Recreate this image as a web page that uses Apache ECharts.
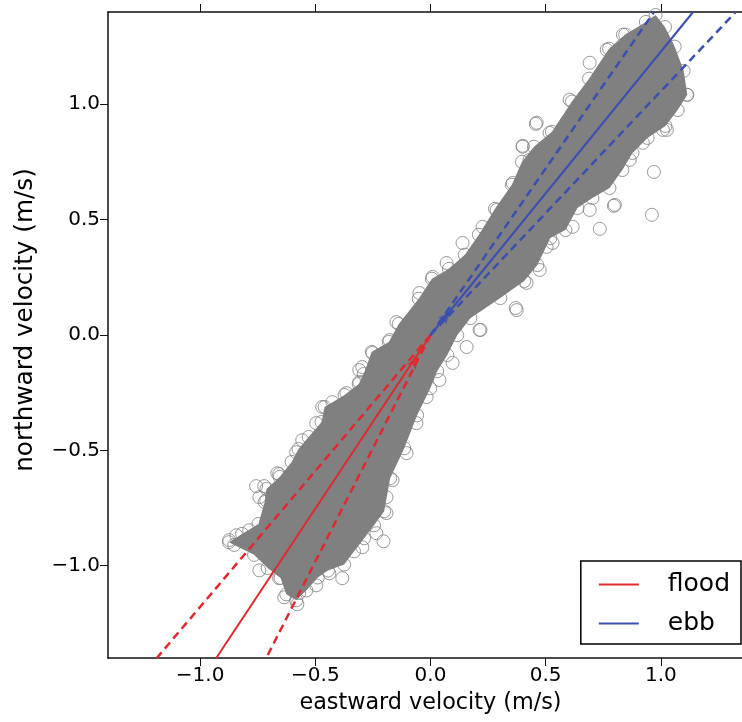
<!DOCTYPE html>
<html>
<head>
<meta charset="utf-8">
<script src="https://cdn.jsdelivr.net/npm/echarts@6.0.0/dist/echarts.min.js"></script>
<style>
html,body{margin:0;padding:0;background:#fff;}
#chart{width:742px;height:722px;}
</style>
</head>
<body>
<div id="chart"></div>
<script>
// tick positions (both axes)
var tickValues = [-1.0, -0.5, 0.0, 0.5, 1.0];

// outline of the dense sample cloud (counter-clockwise from the lower-left tip)
var cloudEdge = [
  [-0.875,-0.898],[-0.818,-0.862],[-0.747,-0.819],[-0.720,-0.724],[-0.712,-0.667],
  [-0.655,-0.615],[-0.603,-0.550],[-0.573,-0.494],[-0.529,-0.442],[-0.473,-0.377],
  [-0.460,-0.312],[-0.373,-0.260],[-0.312,-0.212],[-0.290,-0.169],[-0.255,-0.073],
  [-0.181,-0.030],[-0.138,0.048],[-0.051,0.157],[0.006,0.244],[0.080,0.287],
  [0.149,0.348],[0.210,0.435],[0.280,0.547],[0.353,0.651],[0.397,0.751],
  [0.449,0.816],[0.527,0.881],[0.614,1.012],[0.688,1.111],[0.775,1.241],
  [0.845,1.302],[0.935,1.357],[0.977,1.387],[1.018,1.335],[1.060,1.250],
  [1.099,1.145],[1.115,1.041],[1.073,0.975],[1.020,0.906],[0.942,0.854],
  [0.877,0.789],[0.833,0.715],[0.777,0.637],[0.703,0.594],[0.638,0.550],
  [0.586,0.455],[0.520,0.420],[0.464,0.303],[0.407,0.234],[0.303,0.160],
  [0.173,0.073],[0.116,-0.001],[0.073,-0.087],[0.029,-0.157],[-0.001,-0.231],
  [-0.058,-0.348],[-0.114,-0.491],[-0.175,-0.621],[-0.201,-0.764],[-0.245,-0.825],
  [-0.288,-0.881],[-0.332,-0.938],[-0.375,-0.995],[-0.445,-1.021],[-0.489,-1.051],
  [-0.539,-1.107],[-0.583,-1.150],[-0.626,-1.124],[-0.651,-1.053],[-0.707,-1.010],
  [-0.766,-0.953],[-0.852,-0.910]
];

// individual circles visible along the fringe of the cloud
var fringe = [
  [0.400,0.816],[0.461,0.920],[0.691,1.180],[0.765,1.236],[0.835,1.302],
  [0.604,1.020],[0.517,0.876],[0.430,0.759],[0.357,0.659],[0.287,0.542],
  [0.226,0.469],[0.139,0.399],[0.070,0.312],[0.009,0.252],
  [1.113,1.041],[1.074,1.054],[1.030,0.976],[1.009,0.889],[0.922,0.833],
  [0.865,0.759],[0.800,0.564],[0.691,0.542],[0.617,0.469],[0.530,0.399],
  [0.474,0.282],[0.417,0.226],[0.374,0.108],[0.213,0.022],[0.504,0.382],
  [-0.874,-0.889],[-0.843,-0.868],[-0.787,-0.846],[-0.713,-0.716],[-0.743,-0.703],
  [-0.665,-0.599],[-0.583,-0.508],[-0.557,-0.456],[-0.496,-0.382],[-0.470,-0.312],
  [-0.426,-0.291],[-0.365,-0.252],[-0.309,-0.204],[-0.296,-0.139],[-0.252,-0.078],
  [-0.309,-0.152],[-0.178,-0.022],[-0.148,0.056],[-0.048,0.182],
  [-0.439,-1.033],[-0.496,-1.085],[-0.570,-1.119],[-0.635,-1.137],[-0.657,-1.054],
  [-0.743,-1.020],[-0.296,-0.920],[-0.235,-0.859],[-0.191,-0.772],[-0.191,-0.703],
  [-0.165,-0.629],[-0.104,-0.512],[-0.061,-0.382],[-0.017,-0.269],[0.039,-0.195],
  [0.096,-0.121],[0.157,-0.052]
];

// isolated samples outside the cloud
var outliers = [
  [0.457,0.915],[0.400,0.820],[0.970,0.707],[0.961,0.521],[0.735,0.460],
  [0.796,0.560],[1.026,0.889],[0.217,0.022],[0.370,0.117],
  [-0.722,-0.655],[-0.757,-0.655],[-0.657,-0.603],[-0.383,-1.054],[-0.578,-1.167],
  [-0.204,-0.894]
];

// principal axes (solid) and spread (dashed), from origin to the plot edge
var floodAxis  = [[0,0],[-0.930,-1.4]];
var floodUpper = [[0,0],[-1.188,-1.4]];
var floodLower = [[0,0],[-0.713,-1.4]];
var ebbAxis    = [[0,0],[1.140,1.4]];
var ebbUpper   = [[0,0],[0.970,1.4]];
var ebbLower   = [[0,0],[1.325,1.4]];

// mean flow arrows
var floodMean = [-0.057,-0.095];
var ebbMean   = [0.083,0.100];

var RED = '#e0282e', BLUE = '#3a4fb0', GRAY = '#808080';
var FONT = 'DejaVu Sans';

function fmt(v){
  return v.toFixed(1).replace('-', '\u2212');
}

function baseAxis(extra){
  var a = {
    type:'value', min:-1.4, max:1.4,
    splitLine:{show:false},
    axisLine:{show:true, onZero:false, lineStyle:{color:'#111', width:1.5}},
    axisTick:{show:true, inside:false, length:8, customValues:tickValues, lineStyle:{color:'#111', width:1}},
    axisLabel:{show:true, customValues:tickValues, formatter:fmt, fontSize:20, color:'#000', fontFamily:FONT}
  };
  for (var k in extra) a[k] = extra[k];
  return a;
}

var chart = echarts.init(document.getElementById('chart'), null, {renderer:'canvas'});

function lineSeries(name, data, color, dashed){
  return {
    name:name, type:'line', data:data, symbol:'none', silent:true, clip:true, z:5,
    itemStyle:{color:color},
    lineStyle:{color:color, width:dashed ? 2.5 : 2, type:dashed ? [8,5] : 'solid'}
  };
}

var option = {
  animation:false,
  backgroundColor:'#fff',
  grid:{left:108, top:12, bottom:64, right:-11, outerBoundsMode:'none'},
  xAxis:[
    baseAxis({position:'bottom', name:'eastward velocity (m/s)', nameLocation:'middle', nameGap:34,
      nameTextStyle:{fontSize:22.3, color:'#000', fontFamily:FONT}}),
    baseAxis({position:'top', axisLabel:{show:false}})
  ],
  yAxis:[
    baseAxis({position:'left', name:'northward velocity (m/s)', nameLocation:'middle', nameGap:70,
      nameTextStyle:{fontSize:24.7, color:'#000', fontFamily:FONT, padding:[0,0,0,30]}}),
    baseAxis({position:'right', axisLabel:{show:false}})
  ],
  legend:{
    data:['flood','ebb'], orient:'vertical', right:1, bottom:78,
    icon:'rect', itemWidth:40, itemHeight:2, itemGap:14,
    padding:[11,11,8,18],
    backgroundColor:'#fff', borderColor:'#000', borderWidth:1.5, borderRadius:0,
    textStyle:{fontSize:25, color:'#000', fontFamily:FONT, padding:[0,0,0,24]},
    selectedMode:false
  },
  series:[
    {
      name:'cloud', type:'custom', data:cloudEdge, z:1, silent:true,
      renderItem:function(params, api){
        if (params.dataIndex !== 0) return null;
        var pts = cloudEdge.map(function(p){ return api.coord(p); });
        return {type:'polygon', shape:{points:pts}, style:{fill:GRAY}};
      }
    },
    {
      name:'samples', type:'scatter', data:cloudEdge.concat(fringe, outliers), z:2, silent:true,
      symbol:'circle', symbolSize:13,
      itemStyle:{color:'rgba(0,0,0,0)', borderColor:GRAY, borderWidth:1}
    },
    lineSeries('flood', floodAxis, RED, false),
    lineSeries('flood spread', floodUpper, RED, true),
    lineSeries('flood spread', floodLower, RED, true),
    lineSeries('ebb', ebbAxis, BLUE, false),
    lineSeries('ebb spread', ebbUpper, BLUE, true),
    lineSeries('ebb spread', ebbLower, BLUE, true),
    {
      name:'flood mean', type:'scatter', data:[floodMean], z:6, silent:true,
      symbol:'arrow', symbolSize:[8,12], symbolRotate:-31, itemStyle:{color:RED}
    },
    {
      name:'ebb mean', type:'scatter', data:[ebbMean], z:6, silent:true,
      symbol:'arrow', symbolSize:[8,12], symbolRotate:-39, itemStyle:{color:BLUE}
    }
  ]
};

chart.setOption(option);
</script>
</body>
</html>
